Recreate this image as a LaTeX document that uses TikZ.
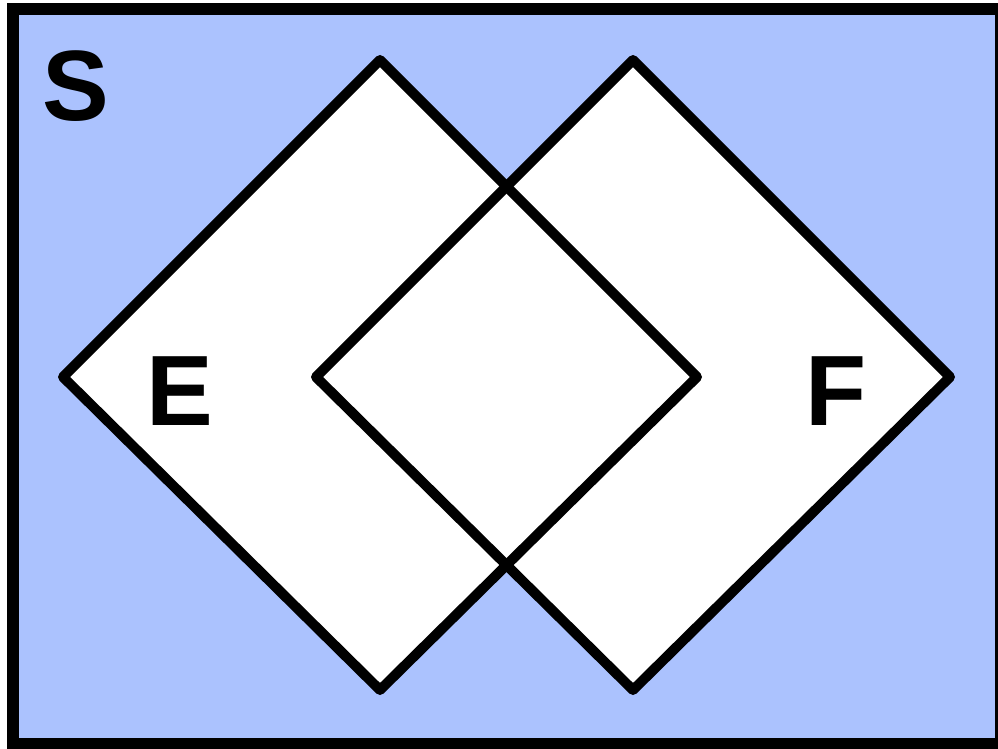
\documentclass[tikz,border=0pt]{standalone}
\usepackage{fontspec}
\setmainfont{Liberation Sans}
\definecolor{sbg}{RGB}{171,194,254}
\begin{document}
\begin{tikzpicture}[x=1pt,y=-1pt,
  setline/.style={line width=10pt,line join=round,draw=black},
  lbl/.style={font=\fontsize{100}{100}\selectfont\bfseries,inner sep=0pt,anchor=base}]
\useasboundingbox (0,0) rectangle (998,749);
\begin{scope}
\clip (0,0) rectangle (998,749);
\draw[line width=12pt,fill=sbg] (13,9) rectangle (1001,744);
\end{scope}
% diamond corners
\coordinate (et) at (380,60); \coordinate (el) at (63,377);
\coordinate (eb) at (380,690); \coordinate (er) at (697,377);
\coordinate (ft) at (633,60); \coordinate (fl) at (316,377);
\coordinate (fb) at (633,690); \coordinate (fr) at (950,377);
\fill[white] (et) -- (el) -- (eb) -- (er) -- cycle;
\fill[white] (ft) -- (fl) -- (fb) -- (fr) -- cycle;
\draw[setline] (et) -- (el) -- (eb) -- (er) -- cycle;
\draw[setline] (ft) -- (fl) -- (fb) -- (fr) -- cycle;
\node[lbl] (S) at (76,121) {S};
\node[lbl] (E) at (180,425) {E};
\node[lbl] (F) at (836,425) {F};
\end{tikzpicture}
\end{document}
